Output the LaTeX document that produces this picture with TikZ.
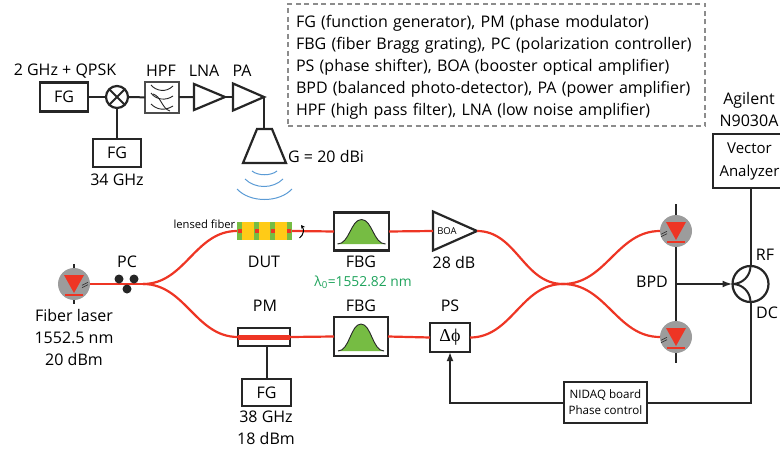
\documentclass[tikz,border=0pt]{standalone}
\usepackage{fontspec}
\setmainfont{Open Sans}
\newfontfamily\serifsym{Liberation Serif}
\usetikzlibrary{arrows.meta,shapes.geometric}

\definecolor{fibred}{HTML}{EE3524}
\definecolor{diodegray}{HTML}{9C9C9C}
\definecolor{peakgreen}{HTML}{76BC43}
\definecolor{dutyellow}{HTML}{FFCB17}
\definecolor{wavblue}{HTML}{5B9BD5}
\definecolor{lamgreen}{HTML}{1FA35C}

\tikzset{
  box/.style={draw=black!85,line width=2.2pt,fill=white,inner sep=0pt,outer sep=0pt},
  wire/.style={draw=black!85,line width=2pt},
  fiber/.style={draw=fibred,line width=2.2pt},
  amp/.style={isosceles triangle,isosceles triangle stretches,shape border rotate=0,
    anchor=lower side,draw=black!85,line width=2.2pt,fill=white,inner sep=0pt,outer sep=0pt},
  diodecirc/.style={circle,fill=diodegray,minimum size=32pt,inner sep=0pt,outer sep=0pt},
  pcdot/.style={circle,fill=black!85,minimum size=9pt,inner sep=0pt},
  wav/.style={draw=wavblue,line width=1pt},
  hpfline/.style={draw=black!85,line width=.9pt},
  lbl/.style={inner sep=0pt},
}

\newcommand{\diodemark}[3]{%
  \fill[fibred] ([shift={(-10,9)}]#1.center) -- ([shift={(10,9)}]#1.center) -- ([shift={(0,-9)}]#1.center) -- cycle;
  \fill[fibred] ([shift={(-9,-11.5)}]#1.center) rectangle ([shift={(9,-9.5)}]#1.center);
  \foreach \d in {-1.2,1.2}
    \draw[black!80,line width=.6pt] ([shift={(#2-3,#3-1.5+\d)}]#1.center) -- ([shift={(#2+3,#3+1.5+\d)}]#1.center);
}
\newcommand{\gausspeak}[4]{%
  \filldraw[fill=peakgreen,draw=black!85,line width=.9pt]
    ([shift={(-#2,-#3)}]#1.center) .. controls ([shift={(-#2*0.5,-#3)}]#1.center) and ([shift={(-#2*0.45,#4)}]#1.center) ..
    ([shift={(0,#4)}]#1.center) .. controls ([shift={(#2*0.45,#4)}]#1.center) and ([shift={(#2*0.5,-#3)}]#1.center) ..
    ([shift={(#2,-#3)}]#1.center);
}

\begin{document}
\begin{tikzpicture}[x=1pt,y=1pt,font=\fontsize{16}{22}\selectfont]
\clip (0,0) rectangle (780,451);

% legend
\node[draw=black!45,line width=2pt,dash pattern=on 5pt off 3.5pt,inner sep=0pt,
  minimum width=417pt,minimum height=122pt] (legend) at (496.5,386) {};
\node[lbl,text width=401pt,align=left] (legendtxt) at (496.5,383.5)
  {FG (function generator), PM (phase modulator)\\
   FBG (fiber Bragg grating), PC (polarization controller)\\
   PS (phase shifter), BOA (booster optical amplifier)\\
   BPD (balanced photo-detector), PA (power amplifier)\\
   HPF (high pass filter), LNA (low noise amplifier)};

% microwave part
\node[box,minimum width=48pt,minimum height=29pt] (fga) at (64,354) {FG};
\node[box,circle,minimum size=22pt] (mix) at (117,354) {};
\node[box,draw=black!70,minimum width=34pt,minimum height=31pt] (hpf) at (162,353.5) {};
\node[amp,minimum width=26pt,minimum height=31pt] (lna) at (194,354) {};
\node[amp,minimum width=27pt,minimum height=31pt] (pa) at (233,354) {};
\node[box,minimum width=48pt,minimum height=28pt] (fgb) at (117,298) {FG};
\coordinate (horntop) at (264,322);
\coordinate (pacorner) at (264,354);

\draw[wire] (fga) -- (mix);
\draw[wire] (mix) -- (hpf);
\draw[wire] (hpf) -- (lna.lower side);
\draw[wire] (lna.apex) -- (pa.lower side);
\draw[wire] (pa.apex) -- (pacorner) -- (horntop);
\draw[wire] (mix) -- (fgb);
\draw[black!85,line width=1.8pt] (mix.north east) -- (mix.south west) (mix.north west) -- (mix.south east);
\draw[box,fill=none] (257,322) -- (272,322) -- (286,288) -- (243,288) -- cycle;

\draw[hpfline] (151,366) .. controls (156,360) and (166,358) .. (173,365);
\draw[hpfline] (151,358) .. controls (156,351) and (166,350) .. (173,355);
\draw[hpfline] (153,357) .. controls (161,355) and (162,342) .. (170,340);
\draw[hpfline] (151,347) .. controls (157,341) and (165,340) .. (173,345);

\draw[wav] (252,280) .. controls (258,275) and (271,275) .. (277,280);
\draw[wav] (245,272) .. controls (255,262) and (273,262) .. (283,272);
\draw[wav] (237,262) .. controls (250,248) and (279,248) .. (292,262);

\node[lbl] (lfga) at (65,380) {2 GHz + QPSK};
\node[lbl] (lhpf) at (161,380) {HPF};
\node[lbl] (llna) at (204,380) {LNA};
\node[lbl] (lpa) at (242,380) {PA};
\node[lbl] (lfgb) at (117,271) {34 GHz};
\node[lbl,anchor=west] (lgain) at (288,295) {G = 20 dBi};

% optical part
\coordinate (lasertop) at (74,187);
\coordinate (laserbot) at (74,147);
\coordinate (pdtop) at (676,247);
\coordinate (pdbot) at (676,88);
\coordinate (bpdjoin) at (676,167);
\draw[wire] (lasertop) -- (laserbot);
\draw[wire] (pdtop) -- (pdbot);

\node[diodecirc] (laser) at (74,167) {};
\coordinate (split) at (143,167);
\node[fill=dutyellow,minimum width=54pt,minimum height=18pt,inner sep=0pt,outer sep=0pt] (dut) at (264,220) {};
\node[box,minimum width=55pt,minimum height=38pt] (fbga) at (361.5,219.5) {};
\node[amp,minimum width=39pt,minimum height=44pt] (boa) at (433,220) {};
\node[box,minimum width=52pt,minimum height=18pt] (pm) at (264,114) {};
\node[box,minimum width=54pt,minimum height=39pt] (fbgb) at (361,114.5) {};
\node[box,minimum width=40pt,minimum height=29pt] (ps) at (450,113.5) {\serifsym\fontsize{18}{20}\selectfont Δϕ};
\node[box,minimum width=49pt,minimum height=27pt] (fgc) at (266.5,58.5) {FG};
\coordinate (couple) at (563,167);
\node[diodecirc] (pda) at (676,220) {};
\node[diodecirc] (pdb) at (676,114) {};
\node[box,circle,minimum size=36pt] (hyb) at (750.5,167) {};
\node[box,minimum width=73pt,minimum height=54pt,align=center,font=\fontsize{15}{23}\selectfont] (vsa) at (749.5,290) {Vector\\Analyzer};
\node[box,minimum width=83pt,minimum height=41pt,align=center,font=\fontsize{11.6}{16}\selectfont] (nidaq) at (605.5,48.5) {NIDAQ board\\Phase control};

\diodemark{laser}{11}{-1}
\diodemark{pda}{-12}{-3}
\diodemark{pdb}{-12}{-3}

\foreach \x in {239.5,256.5,272.5,289}
  \fill[peakgreen] (\x-2.5,211) rectangle (\x+2.5,229);

\draw[fiber] (laser.east) -- (split);
\draw[fiber] (split) to[out=0,in=180] (dut.west);
\draw[fiber] (split) to[out=0,in=180] (pm.west);
\draw[fiber] (292,220) -- (fbga.west);
\draw[fiber] (fbga.east) -- (boa.lower side);
\draw[fiber] (boa.apex) to[out=0,in=180] (couple);
\draw[fiber] (pm.east) -- (fbgb.west);
\draw[fiber] (fbgb.east) -- (ps.west);
\draw[fiber] (ps.east) to[out=0,in=180] (couple);
\draw[fiber] (couple) to[out=0,in=180] (pda.west);
\draw[fiber] (couple) to[out=0,in=180] (pdb.west);
\draw[fibred,line width=5pt] (pm.west) -- (pm.east);
\foreach \x in {239.5,256.5,272.5,289}
  \fill[fibred] (\x-2,218) rectangle (\x+2,222);

\draw[-{Stealth[length=4pt,width=4pt]},black,line width=1pt] (299.5,213) .. controls (304,216) and (304,222) .. (301,226);

\node[pcdot] (pca) at (119,172) {};
\node[pcdot] (pcb) at (134,172) {};
\node[pcdot] (pcc) at (127,162) {};

\gausspeak{fbga}{24}{12.5}{12}
\gausspeak{fbgb}{23}{14.5}{12.5}

\draw[wire] (fgc.north) -- (fgc.north |- pm.south);
\draw[wire,-{Latex[length=9pt,width=7pt]}] (nidaq.west) -| (ps.south);
\draw[wire] (nidaq.east) -| (hyb.south);
\draw[wire] (vsa.south -| hyb.north) -- (hyb.north);
\draw[wire,-{Latex[length=10pt,width=7pt]}] (bpdjoin) -- (hyb.west);
\draw[wire] (hyb.west) to[out=0,in=-90] (hyb.north);
\draw[wire] (hyb.west) to[out=0,in=90] (hyb.south);

\node[lbl] (lpc) at (127,189) {PC};
\node[lbl,align=center] (llaser) at (74,114) {Fiber laser\\1552.5 nm\\20 dBm};
\node[lbl,anchor=east,font=\fontsize{11.2}{12}\selectfont] (llensed) at (235.5,227) {lensed fiber};
\node[lbl] (ldut) at (264,189) {DUT};
\node[lbl] (lfbga) at (361,189) {FBG};
\node[lbl] (lboa) at (454,189) {28 dB};
\node[lbl,font=\fontsize{9.5}{11}\selectfont] (tboa) at (447,220) {BOA};
\node[lbl,text=lamgreen,font=\fontsize{13.8}{15}\selectfont] (llam) at (363,169) {λ\textsubscript{0}=1552.82 nm};
\node[lbl] (lpm) at (265,145) {PM};
\node[lbl] (lfbgb) at (361,145) {FBG};
\node[lbl] (lps) at (450,145) {PS};
\node[lbl,align=center] (lfgc) at (266,23) {38 GHz\\18 dBm};
\node[lbl] (lbpd) at (652,169) {BPD};
\node[lbl,align=center] (lagilent) at (749,341) {Agilent\\N9030A};
\node[lbl] (lrf) at (765,196) {RF};
\node[lbl] (ldc) at (767,138) {DC};
\end{tikzpicture}
\end{document}
